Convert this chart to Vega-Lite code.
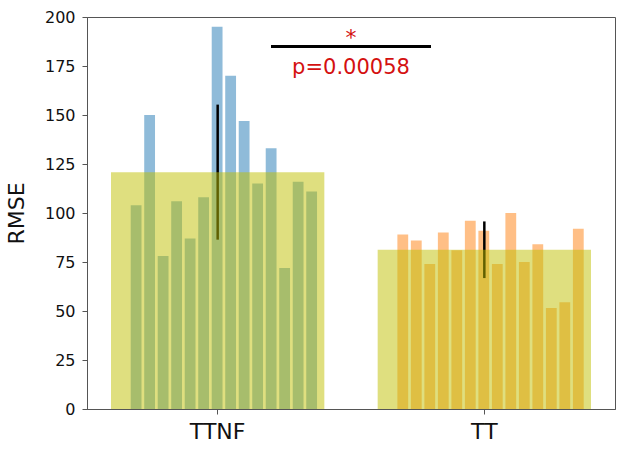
{
  "$schema": "https://vega.github.io/schema/vega-lite/v6.json",
  "width": 528,
  "height": 392,
  "autosize": {"type": "none"},
  "padding": {"left": 87, "top": 17, "right": 9, "bottom": 48},
  "config": {
    "font": "DejaVu Sans",
    "view": {"stroke": "#555", "strokeWidth": 1},
    "axis": {
      "grid": false,
      "domainColor": "#555",
      "tickColor": "#555",
      "tickSize": 5,
      "labelColor": "#111",
      "titleColor": "#111",
      "titleFontWeight": "normal"
    }
  },
  "datasets": {
    "trials": [
      {"group": "TTNF", "subject": 1, "rmse": 104},
      {"group": "TTNF", "subject": 2, "rmse": 150},
      {"group": "TTNF", "subject": 3, "rmse": 78},
      {"group": "TTNF", "subject": 4, "rmse": 106},
      {"group": "TTNF", "subject": 5, "rmse": 87},
      {"group": "TTNF", "subject": 6, "rmse": 108},
      {"group": "TTNF", "subject": 7, "rmse": 195},
      {"group": "TTNF", "subject": 8, "rmse": 170},
      {"group": "TTNF", "subject": 9, "rmse": 147},
      {"group": "TTNF", "subject": 10, "rmse": 115},
      {"group": "TTNF", "subject": 11, "rmse": 133},
      {"group": "TTNF", "subject": 12, "rmse": 72},
      {"group": "TTNF", "subject": 13, "rmse": 116},
      {"group": "TTNF", "subject": 14, "rmse": 111},
      {"group": "TT", "subject": 1, "rmse": 89},
      {"group": "TT", "subject": 2, "rmse": 86},
      {"group": "TT", "subject": 3, "rmse": 74},
      {"group": "TT", "subject": 4, "rmse": 90},
      {"group": "TT", "subject": 5, "rmse": 81},
      {"group": "TT", "subject": 6, "rmse": 96},
      {"group": "TT", "subject": 7, "rmse": 91},
      {"group": "TT", "subject": 8, "rmse": 74},
      {"group": "TT", "subject": 9, "rmse": 100},
      {"group": "TT", "subject": 10, "rmse": 75},
      {"group": "TT", "subject": 11, "rmse": 84},
      {"group": "TT", "subject": 12, "rmse": 51.5},
      {"group": "TT", "subject": 13, "rmse": 54.5},
      {"group": "TT", "subject": 14, "rmse": 92}
    ],
    "summary": [
      {"group": "TTNF", "mean": 120.8, "lo": 86.4, "hi": 155.3},
      {"group": "TT", "mean": 81.3, "lo": 66.8, "hi": 95.7}
    ]
  },
  "layer": [
    {
      "data": {"name": "trials"},
      "mark": {"type": "bar", "opacity": 0.5},
      "encoding": {
        "x": {
          "field": "group",
          "type": "nominal",
          "sort": ["TTNF", "TT"],
          "scale": {"domain": ["TTNF", "TT"], "paddingInner": 0.2, "paddingOuter": 0.09},
          "axis": {"title": null, "labelAngle": 0, "labelFontSize": 22, "labelPadding": 7}
        },
        "xOffset": {
          "field": "subject",
          "type": "ordinal",
          "scale": {"paddingInner": 0.2, "paddingOuter": 1.095, "align": 0.73}
        },
        "y": {
          "field": "rmse",
          "type": "quantitative",
          "scale": {"domain": [0, 200], "nice": false},
          "axis": {
            "title": "RMSE",
            "titleFontSize": 22,
            "titlePadding": 16,
            "values": [0, 25, 50, 75, 100, 125, 150, 175, 200],
            "labelFontSize": 16,
            "labelPadding": 7
          }
        },
        "color": {
          "field": "group",
          "type": "nominal",
          "scale": {"domain": ["TTNF", "TT"], "range": ["#1f77b4", "#ff7f0e"]},
          "legend": null
        }
      }
    },
    {
      "data": {"name": "summary"},
      "mark": {"type": "rule", "color": "#000000", "strokeWidth": 2.5},
      "encoding": {
        "x": {"field": "group", "type": "nominal"},
        "y": {"field": "lo", "type": "quantitative"},
        "y2": {"field": "hi"}
      }
    },
    {
      "data": {"name": "summary"},
      "mark": {"type": "bar", "color": "#bfbf00", "opacity": 0.5},
      "encoding": {
        "x": {"field": "group", "type": "nominal"},
        "y": {"field": "mean", "type": "quantitative"}
      }
    },
    {
      "data": {"values": [{"p": 0.00058}]},
      "mark": {"type": "rule", "color": "#000000", "strokeWidth": 3},
      "encoding": {
        "x": {"datum": "TTNF", "bandPosition": 0.75},
        "x2": {"datum": "TT", "bandPosition": 0.25},
        "y": {"datum": 185}
      }
    },
    {
      "data": {"values": [{"p": 0.00058}]},
      "mark": {"type": "text", "text": "*", "color": "#d41010", "fontSize": 22, "baseline": "alphabetic", "align": "center"},
      "encoding": {
        "x": {"datum": "TTNF", "bandPosition": 1.125},
        "y": {"datum": 185.5}
      }
    },
    {
      "data": {"values": [{"p": 0.00058}]},
      "mark": {"type": "text", "text": "p=0.00058", "color": "#d41010", "fontSize": 21, "baseline": "alphabetic", "align": "center"},
      "encoding": {
        "x": {"datum": "TTNF", "bandPosition": 1.125},
        "y": {"datum": 171}
      }
    }
  ]
}
